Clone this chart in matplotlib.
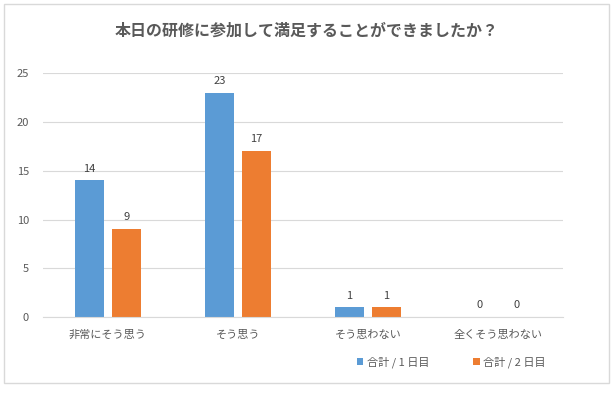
import numpy as np
import matplotlib.pyplot as plt
from matplotlib.patches import Rectangle

plt.rcParams['font.family'] = ['Noto Sans CJK JP', 'DejaVu Sans']

categories = ['非常にそう思う', 'そう思う', 'そう思わない', '全くそう思わない']
day1 = [14, 23, 1, 0]
day2 = [9, 17, 1, 0]
series_names = ['合計 / 1 日目', '合計 / 2 日目']
yticks = [0, 5, 10, 15, 20, 25]

blue = '#5B9BD5'
orange = '#ED7D31'
gray = '#595959'

fig = plt.figure(figsize=(6.14, 3.93), dpi=100)
fig.patches.append(Rectangle((0.006, 0.025), 0.986, 0.965, transform=fig.transFigure,
                             fill=False, edgecolor='#D9D9D9', linewidth=1))

ax = fig.add_axes([0.070, 0.193, 0.847, 0.621])
x = np.arange(len(categories))
w = 0.223
b1 = ax.bar(x - 0.142, day1, w, color=blue, label=series_names[0])
b2 = ax.bar(x + 0.140, day2, w, color=orange, label=series_names[1])

for bars in (b1, b2):
    for r in bars:
        ax.text(r.get_x() + r.get_width() / 2, r.get_height() + 0.7, str(int(r.get_height())),
                ha='center', va='bottom', fontsize=8, color='#404040')

ax.set_xlim(-0.5, 3.5)
ax.set_ylim(0, 25)
ax.set_yticks(yticks)
ax.set_xticks(x)
ax.set_xticklabels(categories)
ax.tick_params(axis='both', length=0, labelsize=8, colors=gray)
ax.tick_params(axis='y', pad=10)
ax.tick_params(axis='x', pad=9)
ax.grid(axis='y', color='#D9D9D9', linewidth=0.8)
ax.set_axisbelow(True)
for s in ['top', 'right', 'left']:
    ax.spines[s].set_visible(False)
ax.spines['bottom'].set_color('#D9D9D9')

fig.text(0.5, 0.921, '本日の研修に参加して満足することができましたか？', ha='center', va='center',
         fontsize=11.5, fontweight='bold', color=gray)

fig.legend(loc='center', bbox_to_anchor=(0.735, 0.078), ncol=2, frameon=False,
           fontsize=8, handlelength=0.6, handleheight=0.6, columnspacing=4,
           handletextpad=0.3, labelcolor=gray)

fig.savefig('out.png', dpi=100)
